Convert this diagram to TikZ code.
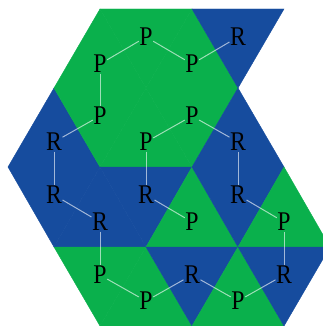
\documentclass[tikz,border=0pt]{standalone}
\usepackage{fontspec}
\setmainfont{Liberation Serif}
\definecolor{tilegreen}{RGB}{10,176,76}
\definecolor{tileblue}{RGB}{22,76,158}

\begin{document}
\begin{tikzpicture}[x=1pt, y=-1pt,
          ptile/.style={fill=tilegreen, draw=tilegreen, line width=0.4pt},
          rtile/.style={fill=tileblue, draw=tileblue, line width=0.4pt},
          mono/.style={inner sep=0.5pt, text=black,
              font=\fontsize{27}{27}\selectfont, xscale=0.88},
          bond/.style={white, opacity=0.6, line width=1pt}
        ]
        \useasboundingbox (0,0) rectangle (323,326);
        \clip (0,0) rectangle (323,326);
        % tiles, row by row
        \fill[ptile] (54,88) -- (146,88) -- (100,9) -- cycle;
        \fill[ptile] (100,9) -- (192,9) -- (146,88) -- cycle;
        \fill[ptile] (146,88) -- (238,88) -- (192,9) -- cycle;
        \fill[rtile] (192,9) -- (284,9) -- (238,88) -- cycle;
        \fill[rtile] (8,167) -- (100,167) -- (54,88) -- cycle;
        \fill[ptile] (54,88) -- (146,88) -- (100,167) -- cycle;
        \fill[ptile] (100,167) -- (192,167) -- (146,88) -- cycle;
        \fill[ptile] (146,88) -- (238,88) -- (192,167) -- cycle;
        \fill[rtile] (192,167) -- (284,167) -- (238,88) -- cycle;
        \fill[rtile] (8,167) -- (100,167) -- (54,247) -- cycle;
        \fill[rtile] (54,247) -- (146,247) -- (100,167) -- cycle;
        \fill[rtile] (100,167) -- (192,167) -- (146,247) -- cycle;
        \fill[ptile] (146,247) -- (238,247) -- (192,167) -- cycle;
        \fill[rtile] (192,167) -- (284,167) -- (238,247) -- cycle;
        \fill[ptile] (238,247) -- (330,247) -- (284,167) -- cycle;
        \fill[ptile] (54,247) -- (146,247) -- (100,326) -- cycle;
        \fill[ptile] (100,326) -- (192,326) -- (146,247) -- cycle;
        \fill[rtile] (146,247) -- (238,247) -- (192,326) -- cycle;
        \fill[ptile] (192,326) -- (284,326) -- (238,247) -- cycle;
        \fill[rtile] (238,247) -- (330,247) -- (284,326) -- cycle;
        % monomers along the chain
        \node[mono] (m1)  at (238,37)  {R};
        \node[mono] (m2)  at (192,64)  {P};
        \node[mono] (m3)  at (146,37)  {P};
        \node[mono] (m4)  at (100,64)  {P};
        \node[mono] (m5)  at (100,116) {P};
        \node[mono] (m6)  at (54,142)  {R};
        \node[mono] (m7)  at (54,195)  {R};
        \node[mono] (m8)  at (100,222) {R};
        \node[mono] (m9)  at (100,275) {P};
        \node[mono] (m10) at (146,301) {P};
        \node[mono] (m11) at (192,275) {R};
        \node[mono] (m12) at (238,301) {P};
        \node[mono] (m13) at (284,275) {R};
        \node[mono] (m14) at (284,222) {P};
        \node[mono] (m15) at (238,195) {R};
        \node[mono] (m16) at (238,142) {R};
        \node[mono] (m17) at (192,116) {P};
        \node[mono] (m18) at (146,142) {P};
        \node[mono] (m19) at (146,195) {R};
        \node[mono] (m20) at (192,222) {P};
        \foreach \i [count=\j from 2] in {1,...,19}
          \draw[bond] (m\i) -- (m\j);
      \end{tikzpicture}
\end{document}
